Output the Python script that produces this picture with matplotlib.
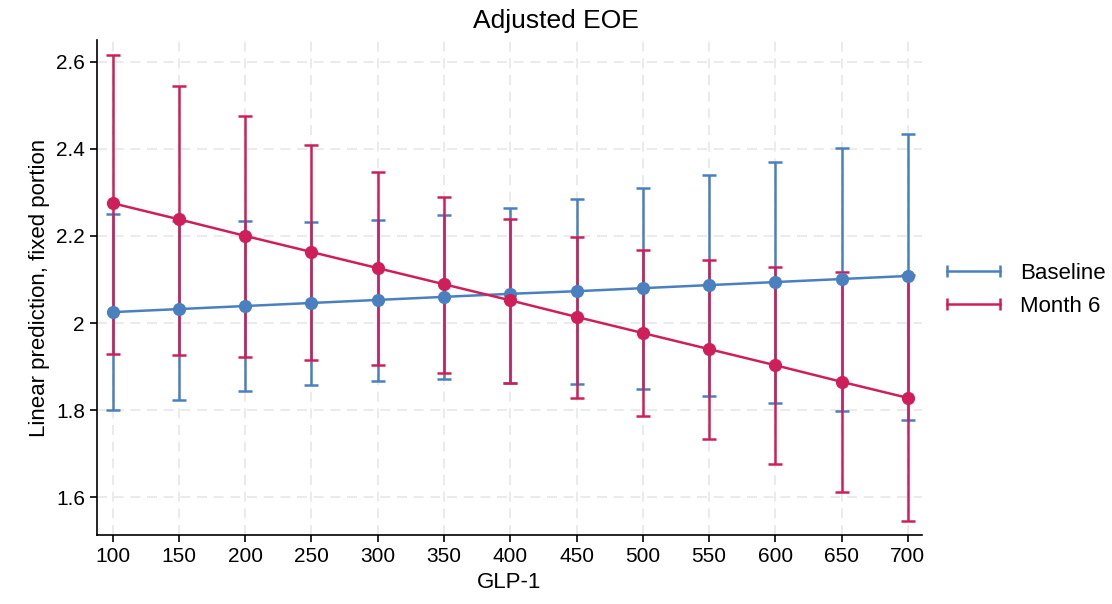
import matplotlib.pyplot as plt
from matplotlib.lines import Line2D
import numpy as np

plt.rcParams['font.family'] = ['Liberation Sans', 'DejaVu Sans']

glp1 = [100, 150, 200, 250, 300, 350, 400, 450, 500, 550, 600, 650, 700]

base_mean = [2.025, 2.032, 2.039, 2.046, 2.053, 2.060, 2.067, 2.073, 2.080, 2.087, 2.094, 2.101, 2.108]
base_lo = [1.800, 1.823, 1.844, 1.858, 1.867, 1.871, 1.863, 1.859, 1.848, 1.833, 1.816, 1.798, 1.777]
base_hi = [2.251, 2.234, 2.234, 2.233, 2.237, 2.248, 2.264, 2.285, 2.310, 2.339, 2.369, 2.402, 2.435]

m6_mean = [2.275, 2.238, 2.200, 2.163, 2.126, 2.089, 2.052, 2.014, 1.977, 1.940, 1.903, 1.865, 1.828]
m6_lo = [1.929, 1.926, 1.922, 1.914, 1.903, 1.886, 1.863, 1.828, 1.786, 1.734, 1.676, 1.612, 1.545]
m6_hi = [2.616, 2.545, 2.475, 2.408, 2.346, 2.289, 2.239, 2.198, 2.167, 2.144, 2.129, 2.117, 2.111]

blue = '#4a80bf'
red = '#cf1f5a'

fig = plt.figure(figsize=(11.12, 6.04), dpi=100)
ax = fig.add_axes([0.087, 0.114, 0.742, 0.82])

handles = []
for mean, lo, hi, col, lab in [(base_mean, base_lo, base_hi, blue, 'Baseline'),
                               (m6_mean, m6_lo, m6_hi, red, 'Month 6')]:
    mean = np.array(mean)
    err = [mean - np.array(lo), np.array(hi) - mean]
    ax.errorbar(glp1, mean, yerr=err, fmt='none', ecolor=col, elinewidth=1.8,
                capsize=5, capthick=1.8)
    ax.plot(glp1, mean, color=col, lw=1.8, marker='o', ms=8.5, zorder=3)
    handles.append(Line2D([0], [0], color=col, lw=1.8, marker='|', ms=8, mew=1.8, label=lab))

ax.set_xlim(88, 710.5)
ax.set_ylim(1.513, 2.65)
ax.set_xticks(glp1)
ax.set_yticks([1.6, 1.8, 2.0, 2.2, 2.4, 2.6])
ax.yaxis.set_major_formatter(plt.FormatStrFormatter('%g'))
ax.tick_params(labelsize=15, length=5, width=1.2, colors='black')
ax.grid(True, color='#e8e8e8', ls=(0, (6, 4)), lw=1.2)
ax.set_axisbelow(True)
for s in ['top', 'right']:
    ax.spines[s].set_visible(False)
for s in ['left', 'bottom']:
    ax.spines[s].set_linewidth(1.2)

ax.set_xlabel('GLP-1', fontsize=16)
ax.set_ylabel('Linear prediction, fixed portion', fontsize=16)
fig.text(0.5, 0.965, 'Adjusted EOE', fontsize=19, ha='center', va='center')

ax.legend(handles=handles, loc='center left', bbox_to_anchor=(1.022, 0.495), frameon=False,
          fontsize=16, handlelength=3.0, handletextpad=0.6, numpoints=2,
          borderpad=0, borderaxespad=0, labelspacing=0.55)

fig.savefig('out.png', dpi=100)
